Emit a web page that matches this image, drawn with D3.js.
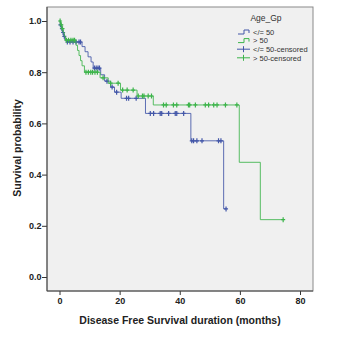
<!DOCTYPE html>
<html>
<head>
<meta charset="utf-8">
<script src="https://cdnjs.cloudflare.com/ajax/libs/d3/7.8.5/d3.min.js"></script>
<style>
  body { margin: 0; background: #fff; }
  text { font-family: Arial, "Liberation Sans", sans-serif; }
</style>
</head>
<body>
<div id="chart"></div>
<script>
/*****************************************************
 * DATA
 *****************************************************/
const groups = ["</= 50", "> 50"];

// step curve: event times (months) and survival after each step
const lowTimes = [0, 0.3, 0.6, 1.0, 1.4, 1.8, 2.5, 7.5, 8.5, 9.5, 10.5, 11.2, 13.7, 15.0, 17.0, 18.3, 20.5, 28.6, 43.7, 54.6];
const lowSurv  = [1.0, 0.985, 0.97, 0.955, 0.94, 0.925, 0.918, 0.90, 0.88, 0.86, 0.84, 0.816, 0.79, 0.765, 0.742, 0.722, 0.698, 0.639, 0.532, 0.266];
const lowCensored = [0.3, 0.8, 1.2, 1.6, 2.6, 3.5, 4.5, 5.5, 6.5, 7.0, 11.6, 12.2, 12.8, 13.3, 15.8, 17.5, 19.0,
  22.3, 23.0, 25.5, 30.2, 31.3, 33.5, 34.0, 36.3, 38.5, 39.0, 41.3, 44.0, 44.6, 45.7, 47.4, 52.9, 53.7, 55.4];
const lowEnd = 55.4;

const highTimes = [0, 0.4, 0.8, 1.2, 1.6, 2.0, 5.5, 6.0, 6.5, 7.0, 7.5, 8.3, 13.5, 16.2, 20.3, 25.8, 31.2, 59.8, 66.8];
const highSurv  = [1.0, 0.985, 0.97, 0.955, 0.94, 0.925, 0.905, 0.885, 0.865, 0.845, 0.825, 0.80, 0.778, 0.757, 0.73, 0.707, 0.672, 0.448, 0.224];
const highCensored = [0.2, 0.6, 1.0, 2.3, 3.0, 3.8, 4.5, 5.0, 8.8, 9.6, 10.4, 11.0, 11.8, 12.6, 14.5, 17.0, 19.5,
  21.0, 22.5, 24.5, 26.2, 27.6, 28.1, 29.5, 30.6, 34.6, 35.5, 37.9, 39.0, 42.9, 43.3, 45.2, 48.5, 49.6, 51.3,
  52.4, 55.2, 59.0, 74.4];
const highEnd = 74.4;

const xTicks = [0, 20, 40, 60, 80];
const yTicks = [0.0, 0.2, 0.4, 0.6, 0.8, 1.0];

const legendTitle = "Age_Gp";
const legendLabels = ["</= 50", "> 50", "</= 50-censored", "> 50-censored"];

/*****************************************************
 * LAYOUT
 *****************************************************/
const width = 359, height = 337;
const frame = { left: 47, top: 7, right: 313, bottom: 291 };
const colors = ["#4256a8", "#3cb44a"];

const svg = d3.select("#chart").append("svg")
  .attr("width", width)
  .attr("height", height);

const x = d3.scaleLinear().domain([0, 80]).range([59.5, 300]);
const y = d3.scaleLinear().domain([0, 1]).range([277, 21]);

svg.append("rect")
  .attr("x", frame.left).attr("y", frame.top)
  .attr("width", frame.right - frame.left)
  .attr("height", frame.bottom - frame.top)
  .attr("fill", "#f0f0f0")
  .attr("stroke", "#8a8a8a");

/*****************************************************
 * AXES
 *****************************************************/
const xAxis = svg.append("g")
  .attr("transform", `translate(0,${frame.bottom})`)
  .call(d3.axisBottom(x).tickValues(xTicks).tickSize(4).tickFormat(d3.format("d")));

const yAxis = svg.append("g")
  .attr("transform", `translate(${frame.left},0)`)
  .call(d3.axisLeft(y).tickValues(yTicks).tickSize(5).tickFormat(d3.format(".1f")));

[xAxis, yAxis].forEach(g => {
  g.select(".domain").remove();
  g.selectAll(".tick line").attr("stroke", "#333");
  g.selectAll(".tick text")
    .attr("fill", "#222")
    .attr("font-size", "9px")
    .attr("font-weight", "bold");
});
yAxis.selectAll(".tick text").attr("x", -5.5);
xAxis.selectAll(".tick text").attr("y", 7);

// darker left and bottom axis lines
svg.append("line")
  .attr("x1", frame.left).attr("x2", frame.left)
  .attr("y1", frame.top).attr("y2", frame.bottom)
  .attr("stroke", "#444");
svg.append("line")
  .attr("x1", frame.left).attr("x2", frame.right)
  .attr("y1", frame.bottom).attr("y2", frame.bottom)
  .attr("stroke", "#444");

svg.append("text")
  .attr("x", 180).attr("y", 324)
  .attr("text-anchor", "middle")
  .attr("font-size", "10.5px")
  .attr("font-weight", "bold")
  .attr("fill", "#222")
  .text("Disease Free Survival duration (months)");

svg.append("text")
  .attr("transform", "translate(21,148) rotate(-90)")
  .attr("text-anchor", "middle")
  .attr("font-size", "10.5px")
  .attr("font-weight", "bold")
  .attr("fill", "#222")
  .text("Survival probability");

/*****************************************************
 * CURVES
 *****************************************************/
const series = [
  { times: lowTimes, surv: lowSurv, cens: lowCensored, end: lowEnd },
  { times: highTimes, surv: highSurv, cens: highCensored, end: highEnd }
];

function survAt(s, t) {
  let v = s.surv[0];
  s.times.forEach((tt, i) => { if (tt <= t) v = s.surv[i]; });
  return v;
}

const line = d3.line()
  .x(d => x(d[0]))
  .y(d => y(d[1]))
  .curve(d3.curveStepAfter);

series.forEach((s, k) => {
  const pts = s.times.map((t, i) => [t, s.surv[i]]);
  pts.push([s.end, s.surv[s.surv.length - 1]]);

  svg.append("path")
    .datum(pts)
    .attr("d", line)
    .attr("fill", "none")
    .attr("stroke", colors[k])
    .attr("stroke-opacity", 0.85)
    .attr("stroke-width", 1);

  svg.append("g").selectAll("path")
    .data(s.cens)
    .enter()
    .append("path")
    .attr("d", t => {
      const cx = x(t), cy = y(survAt(s, t));
      return `M${cx - 2},${cy}H${cx + 2}M${cx},${cy - 2.5}V${cy + 2.5}`;
    })
    .attr("stroke", colors[k])
    .attr("stroke-width", 1.2);
});

/*****************************************************
 * LEGEND
 *****************************************************/
const legend = svg.append("g");

legend.append("text")
  .attr("x", 266).attr("y", 21)
  .attr("text-anchor", "middle")
  .attr("font-size", "8.5px")
  .attr("fill", "#333")
  .text(legendTitle);

legendLabels.forEach((label, i) => {
  const ly = 32 + i * 8.6;
  const c = colors[i % 2];
  if (i < 2) {
    legend.append("path")
      .attr("d", `M238,${ly + 2}H244V${ly - 2}H249V${ly + 1}`)
      .attr("fill", "none")
      .attr("stroke", c);
  } else {
    legend.append("path")
      .attr("d", `M237,${ly}H250M243.5,${ly - 3}V${ly + 3}`)
      .attr("stroke", c);
  }
  legend.append("text")
    .attr("x", 253).attr("y", ly + 2.8)
    .attr("font-size", "7.5px")
    .attr("fill", "#333")
    .text(label);
});
</script>
</body>
</html>
